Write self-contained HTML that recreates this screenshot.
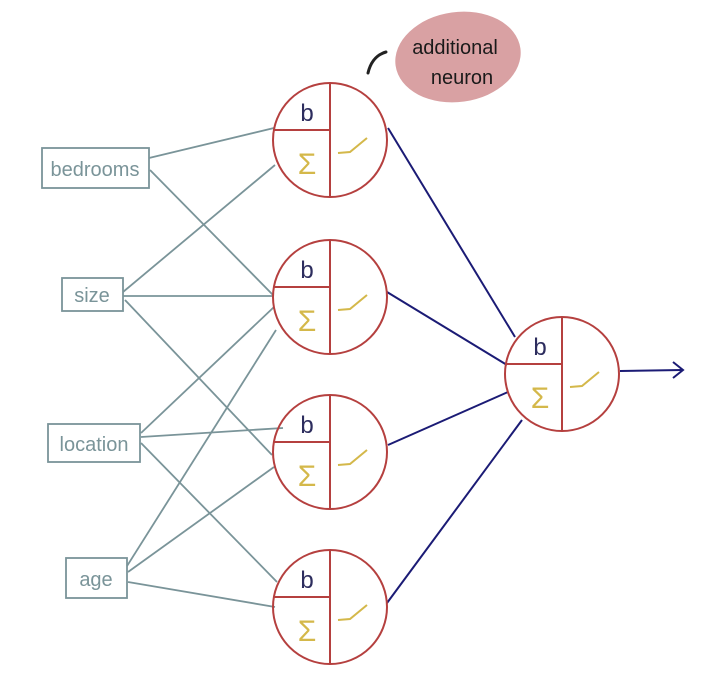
<!DOCTYPE html>
<html><head><meta charset="utf-8"><style>
html,body{margin:0;padding:0;background:#fff;}
svg{display:block}
</style></head><body>
<svg width="720" height="675" viewBox="0 0 720 675" xmlns="http://www.w3.org/2000/svg">
<defs>
<g id="n">
<circle cx="0" cy="0" r="57" fill="none" stroke="#b5403f" stroke-width="2"/>
<line x1="0" y1="-57" x2="0" y2="57" stroke="#b5403f" stroke-width="2"/>
<line x1="-57" y1="-10" x2="0" y2="-10" stroke="#b5403f" stroke-width="2"/>
<polyline points="8,13 20,12 37,-2" fill="none" stroke="#d4b84a" stroke-width="2"/>
</g>
</defs>
<g stroke="#7a9499" stroke-width="1.8" fill="none">
<rect x="42" y="148" width="107" height="40"/>
<rect x="62" y="278" width="61" height="33"/>
<rect x="48" y="424" width="92" height="38"/>
<rect x="66" y="558" width="61" height="40"/>
<line x1="149" y1="158" x2="274" y2="128"/>
<line x1="150" y1="170" x2="273" y2="295"/>
<line x1="123" y1="292" x2="275" y2="165"/>
<line x1="123" y1="296" x2="273" y2="296"/>
<line x1="125" y1="300" x2="272" y2="455"/>
<line x1="141" y1="433" x2="274" y2="307"/>
<line x1="141" y1="437" x2="283" y2="428"/>
<line x1="141" y1="443" x2="277" y2="582"/>
<line x1="127" y1="566" x2="276" y2="330"/>
<line x1="128" y1="572" x2="274" y2="467"/>
<line x1="128" y1="582" x2="275" y2="607"/>
</g>
<g stroke="#1b1b75" stroke-width="2" fill="none">
<line x1="388" y1="128" x2="515" y2="337"/>
<line x1="387" y1="292" x2="507" y2="365"/>
<line x1="388" y1="445" x2="508" y2="392"/>
<line x1="387" y1="603" x2="522" y2="420"/>
<line x1="620" y1="371" x2="682" y2="370"/>
<polyline points="673,362 683,370 673,378"/>
</g>
<use href="#n" x="330" y="140"/>
<use href="#n" x="330" y="297"/>
<use href="#n" x="330" y="452"/>
<use href="#n" x="330" y="607"/>
<use href="#n" x="562" y="374"/>
<g font-family="Liberation Sans, sans-serif" font-size="24" text-anchor="middle">
<g fill="#2d2d5e"><text x="307" y="121">b</text><text x="307" y="278">b</text><text x="307" y="433">b</text><text x="307" y="588">b</text><text x="540" y="355">b</text></g>
<g fill="#d4b84a" font-size="30"><text x="307" y="174">Σ</text><text x="307" y="331">Σ</text><text x="307" y="486">Σ</text><text x="307" y="641">Σ</text><text x="540" y="408">Σ</text></g>
</g>
<g font-family="Liberation Sans, sans-serif" font-size="20" fill="#7a9499" text-anchor="middle">
<text x="95" y="176">bedrooms</text>
<text x="92" y="302">size</text>
<text x="94" y="451">location</text>
<text x="96" y="586">age</text>
</g>
<ellipse cx="458" cy="57" rx="63" ry="45" fill="#d9a1a3" transform="rotate(-8 458 57)"/>
<path d="M386 52 Q372 56 368 73" stroke="#222" stroke-width="3" fill="none" stroke-linecap="round"/>
<g font-family="Liberation Sans, sans-serif" font-size="20" fill="#1a1a1a" text-anchor="middle">
<text x="455" y="54">additional</text>
<text x="462" y="84">neuron</text>
</g>
</svg>
</body></html>
